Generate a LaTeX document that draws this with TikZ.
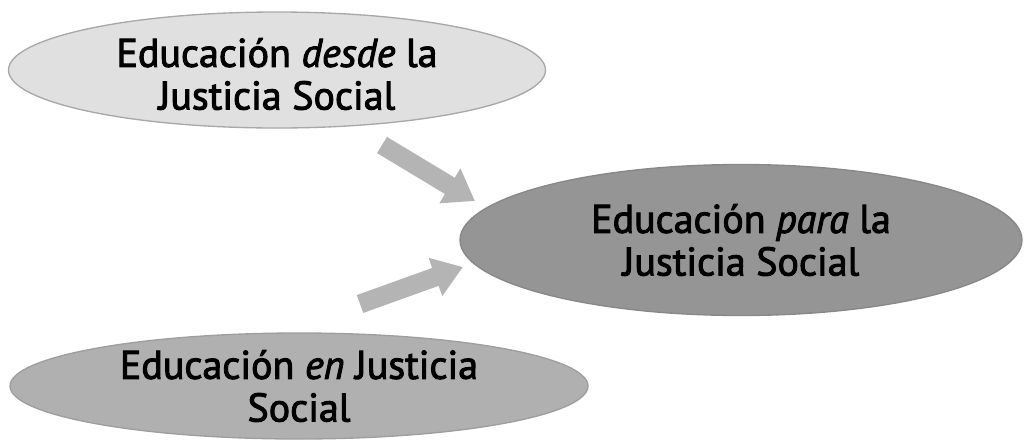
\documentclass[tikz,border=0pt]{standalone}
\usepackage{fontspec}
\setmainfont[FakeBold=2.4]{PT Sans}
\usetikzlibrary{arrows.meta,shapes.geometric}
\definecolor{fillA}{HTML}{E0E0E0}
\definecolor{fillB}{HTML}{959595}
\definecolor{fillC}{HTML}{B0B0B0}
\definecolor{arr}{HTML}{B4B4B4}
\definecolor{edgeA}{HTML}{A8A8A8}
\definecolor{edgeB}{HTML}{888888}
\definecolor{edgeC}{HTML}{9E9E9E}
\tikzset{
  oval/.style={ellipse, draw, line width=1pt, inner sep=0pt},
  label text/.style={align=center, font=\fontsize{30}{32}\selectfont},
  blockarrow/.style={draw=arr, line width=14.25pt,
    -{Triangle[length=22pt,width=29pt]}}
}
\begin{document}
\begin{tikzpicture}[x=0.75pt,y=-0.75pt]
\useasboundingbox (0,0) rectangle (1024,440);
\node[oval, fill=fillA, draw=edgeA, minimum width=537*0.75pt, minimum height=116*0.75pt] (desde) at (277,70) {};
\node[label text, yshift=-3pt] (t1) at (desde.center) {Educación \textit{desde} la\\Justicia Social};
\node[oval, fill=fillB, draw=edgeB, minimum width=562*0.75pt, minimum height=151*0.75pt] (para) at (741,240) {};
\node[label text] (t2) at (para.center) {Educación \textit{para} la\\Justicia Social};
\node[oval, fill=fillC, draw=edgeC, minimum width=578*0.75pt, minimum height=106*0.75pt] (en) at (299,386) {};
\node[label text] (t3) at (en.center) {Educación \textit{en} Justicia\\Social};
\coordinate (a1s) at (382,145);
\coordinate (a1e) at (475,201);
\coordinate (a2s) at (360,304);
\coordinate (a2e) at (463,267);
\draw[blockarrow] (a1s) -- (a1e);
\draw[blockarrow] (a2s) -- (a2e);
\end{tikzpicture}
\end{document}
